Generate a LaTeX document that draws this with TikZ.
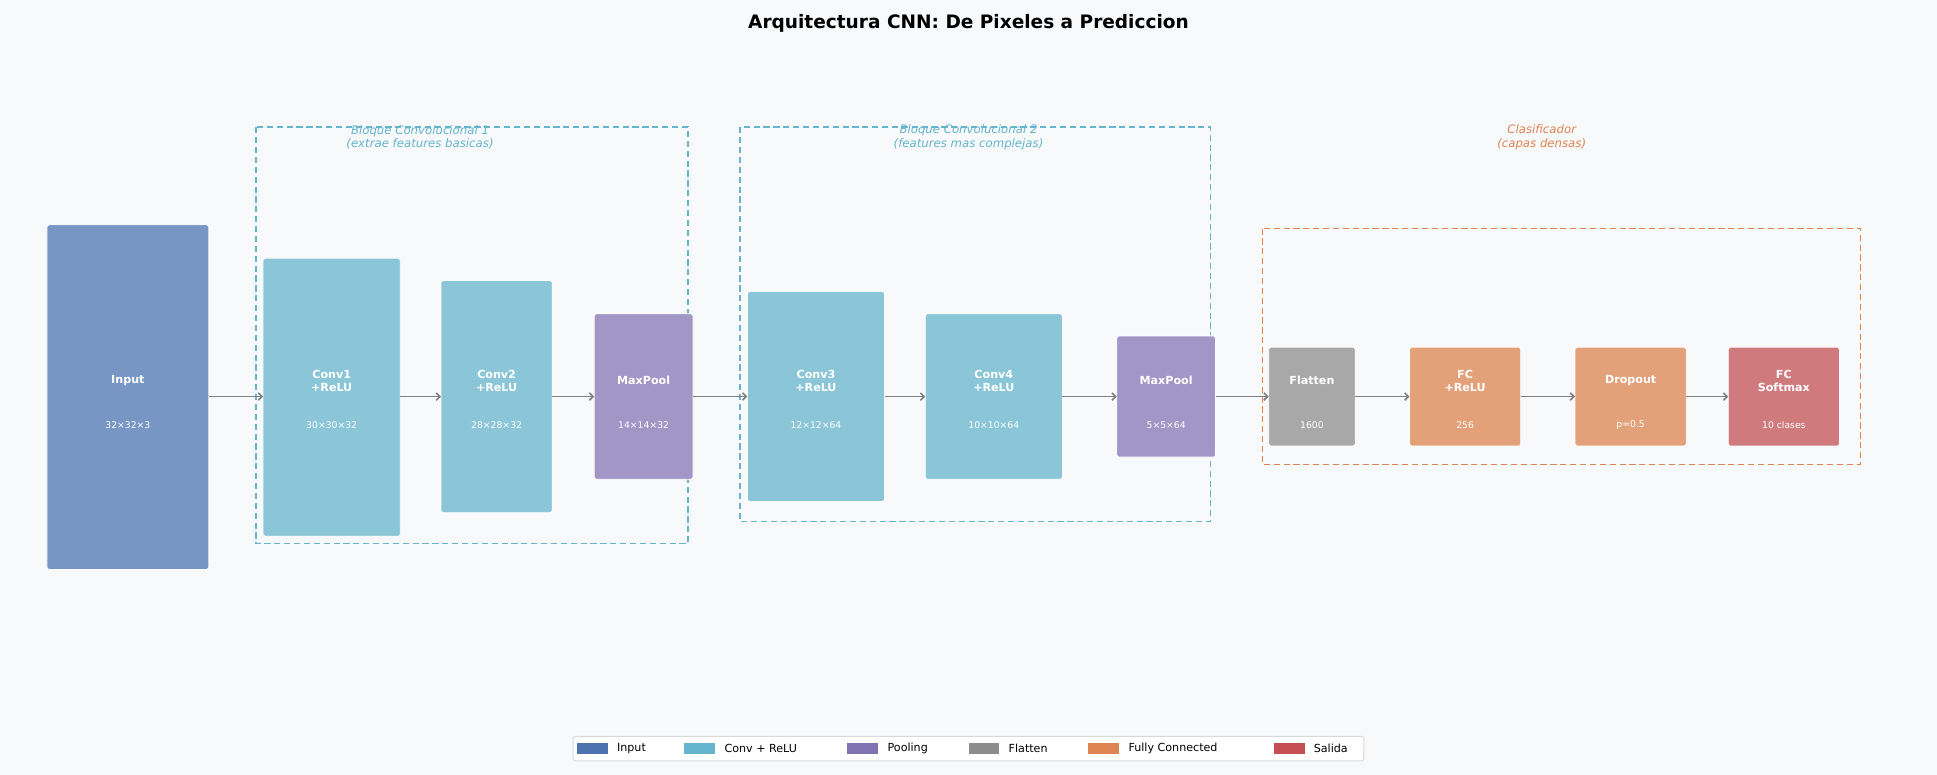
\documentclass[tikz,border=0pt]{standalone}
\usepackage{fontspec}
\setmainfont{DejaVu Sans}
\usetikzlibrary{arrows.meta}
\definecolor{bg}{HTML}{F8F9FA}
\definecolor{cin}{HTML}{7896C4}
\definecolor{cconv}{HTML}{8AC6D7}
\definecolor{cpool}{HTML}{A196C6}
\definecolor{cflat}{HTML}{A8A8A8}
\definecolor{cfc}{HTML}{E3A17A}
\definecolor{cout}{HTML}{D07A7D}
\definecolor{lin}{HTML}{4C72B0}
\definecolor{lconv}{HTML}{64B5CD}
\definecolor{lpool}{HTML}{8172B2}
\definecolor{lflat}{HTML}{8C8C8C}
\definecolor{lfc}{HTML}{DD8452}
\definecolor{lout}{HTML}{C44E52}
\begin{document}
\begin{tikzpicture}[x=1pt,y=-1pt,
  blk/.style={draw=white,line width=0.6pt,rounded corners=1.5pt},
  nm/.style={text=white,font=\fontsize{9}{10.5}\selectfont\bfseries,align=center},
  dm/.style={text=white,font=\fontsize{7.5}{9}\selectfont},
  arr/.style={draw=gray,line width=1.3pt,-{Straight Barb[length=3pt,width=6pt]}},
  grp/.style={dashed,line width=1.3pt,dash pattern=on 5pt off 3pt},
  gl/.style={font=\fontsize{9.5}{11}\selectfont\itshape,align=center},
  lg/.style={font=\fontsize{9}{10}\selectfont,anchor=west}]
\fill[bg] (0,0) rectangle (1568,627);
\useasboundingbox (0,0) rectangle (1568,627);
\node[font=\fontsize{15}{18}\selectfont\bfseries] (title) at (784,19) {Arquitectura CNN: De Pixeles a Prediccion};
% groups
\draw[grp,lconv] (207,103) rectangle (557,440);
\draw[grp,lconv] (599,103) rectangle (980,422);
\draw[grp,lfc] (1022,185) rectangle (1506,376);
\node[gl,text=lconv] (g1) at (340,111) {Bloque Convolucional 1\\(extrae features basicas)};
\node[gl,text=lconv] (g2) at (784,111) {Bloque Convolucional 2\\(features mas complejas)};
\node[gl,text=lfc] (g3) at (1248,111) {Clasificador\\(capas densas)};
% layers: name, x1,x2,y1,y2,color,title,dims
\def\layer#1#2#3#4#5#6#7#8{%
  \path[blk,fill=#6] (#2,#4) rectangle (#3,#5);
  \coordinate (#1) at ({(#2+#3)/2},321);
  \coordinate (#1w) at (#2,321);
  \coordinate (#1e) at (#3,321);
  \node[nm] (#1t) at ({(#2+#3)/2},308) {#7};
  \node[dm] (#1d) at ({(#2+#3)/2},344) {#8};}
\layer{in}{38}{169}{182}{461}{cin}{Input}{32×32×3}
\layer{c1}{213}{324}{209}{434}{cconv}{Conv1\\+ReLU}{30×30×32}
\layer{c2}{357}{447}{227}{415}{cconv}{Conv2\\+ReLU}{28×28×32}
\layer{p1}{481}{561}{254}{388}{cpool}{MaxPool}{14×14×32}
\layer{c3}{605}{716}{236}{406}{cconv}{Conv3\\+ReLU}{12×12×64}
\layer{c4}{749}{860}{254}{388}{cconv}{Conv4\\+ReLU}{10×10×64}
\layer{p2}{904}{984}{272}{370}{cpool}{MaxPool}{5×5×64}
\layer{fl}{1027}{1097}{281}{361}{cflat}{Flatten}{1600}
\layer{fc}{1141}{1231}{281}{361}{cfc}{FC\\+ReLU}{256}
\layer{dr}{1275}{1365}{281}{361}{cfc}{Dropout}{p=0.5}
\layer{ou}{1399}{1489}{281}{361}{cout}{FC\\Softmax}{10 clases}
\draw[arr] (ine) -- (c1w);
\draw[arr] (c1e) -- (c2w);
\draw[arr] (c2e) -- (p1w);
\draw[arr] (p1e) -- (c3w);
\draw[arr] (c3e) -- (c4w);
\draw[arr] (c4e) -- (p2w);
\draw[arr] (p2e) -- (flw);
\draw[arr] (fle) -- (fcw);
\draw[arr] (fce) -- (drw);
\draw[arr] (dre) -- (ouw);
% legend
\draw[rounded corners=1.5pt,draw=black!15,fill=white,line width=0.8pt] (464,596) rectangle (1104,616);
\def\leg#1#2#3#4{\fill[#2] (#1,601.5) rectangle ({#1+25},610.5); \node[lg] (#3) at ({#1+29},606) {#4};}
\leg{467}{lin}{l1}{Input}
\leg{554}{lconv}{l2}{Conv + ReLU}
\leg{686}{lpool}{l3}{Pooling}
\leg{784}{lflat}{l4}{Flatten}
\leg{881}{lfc}{l5}{Fully Connected}
\leg{1031}{lout}{l6}{Salida}
\end{tikzpicture}
\end{document}
